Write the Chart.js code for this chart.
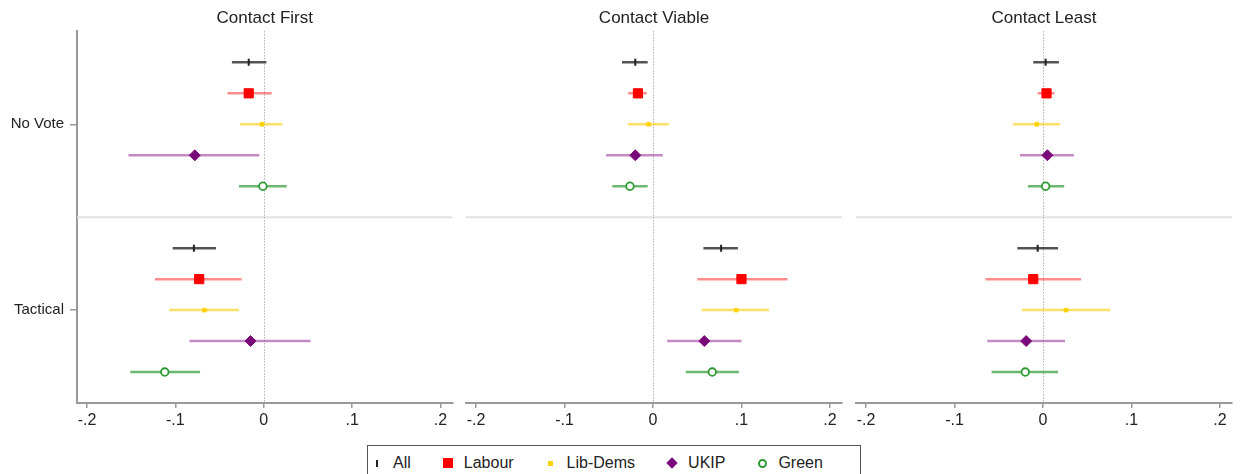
<!DOCTYPE html>
<html>
<head>
<meta charset="utf-8">
<script src="https://cdn.jsdelivr.net/npm/chart.js@4.4.1/dist/chart.umd.min.js"></script>
<style>
  body { margin: 0; background: #fff; width: 1240px; height: 474px; overflow: hidden; position: relative;
         font-family: "Liberation Sans", Arial, sans-serif; }
  canvas { position: absolute; top: 0; }
  #legend { position: absolute; left: 367px; top: 445px; width: 494px; height: 36px; box-sizing: border-box;
            border: 1px solid #555; display: flex; align-items: center;
            font-size: 16px; color: #222; }
  #legend .item { display: flex; align-items: center; margin-right: 28px; }
  #legend .mk { width: 18px; margin-right: 7px; display: flex; justify-content: center; align-items: center; }
</style>
</head>
<body>
<canvas id="p0" width="460" height="440" style="left:0px"></canvas>
<canvas id="p1" width="404" height="440" style="left:446px"></canvas>
<canvas id="p2" width="404" height="440" style="left:836px"></canvas>
<div id="legend"></div>
<script>
// --- data -------------------------------------------------------------
const panelTitles = ['Contact First', 'Contact Viable', 'Contact Least'];
const groupLabels = ['No Vote', 'Tactical'];
const parties = ['All', 'Labour', 'Lib-Dems', 'UKIP', 'Green'];
const xTicks = [-0.2, -0.1, 0, 0.1, 0.2];
const xTickLabels = ['-.2', '-.1', '0', '.1', '.2'];

// order: No Vote (All, Labour, Lib-Dems, UKIP, Green), then Tactical (same order)
const firstEst = [-0.017, -0.017, -0.002, -0.078, -0.001, -0.079, -0.073, -0.067, -0.015, -0.112];
const firstLo  = [-0.036, -0.041, -0.027, -0.153, -0.028, -0.103, -0.123, -0.107, -0.084, -0.151];
const firstHi  = [ 0.003,  0.009,  0.021, -0.005,  0.026, -0.054, -0.025, -0.028,  0.053, -0.072];

const viableEst = [-0.020, -0.017, -0.005, -0.020, -0.026, 0.077, 0.100, 0.094, 0.058, 0.067];
const viableLo  = [-0.035, -0.028, -0.028, -0.053, -0.046, 0.057, 0.050, 0.055, 0.016, 0.037];
const viableHi  = [-0.006, -0.007,  0.018,  0.011, -0.006, 0.096, 0.152, 0.131, 0.100, 0.097];

const leastEst = [ 0.003,  0.004, -0.007,  0.005,  0.003, -0.006, -0.011,  0.026, -0.019, -0.020];
const leastLo  = [-0.011, -0.006, -0.034, -0.026, -0.017, -0.029, -0.065, -0.024, -0.063, -0.058];
const leastHi  = [ 0.018,  0.013,  0.019,  0.035,  0.024,  0.017,  0.043,  0.076,  0.025,  0.017];

// --- styles -----------------------------------------------------------
const FONT = '"Liberation Sans", Arial, sans-serif';
const AXIS = '#999';
const partyStyle = [
  { point: 'line',    radius: 3.5, rotation: 90, fill: '#222',    edge: '#222',    width: 2,   ci: 'rgba(40,40,40,0.8)' },
  { point: 'rect',    radius: 6.5, rotation: 0,  fill: '#ff0000', edge: '#ff0000', width: 1,   ci: 'rgba(255,0,0,0.45)' },
  { point: 'rect',    radius: 2.5, rotation: 0,  fill: '#ffd200', edge: '#ffd200', width: 1,   ci: 'rgba(255,210,40,0.7)' },
  { point: 'rectRot', radius: 5.5, rotation: 0,  fill: '#7a0a7a', edge: '#7a0a7a', width: 1,   ci: 'rgba(140,20,140,0.5)' },
  { point: 'circle',  radius: 3.8, rotation: 0,  fill: '#ffffff', edge: '#2e9a34', width: 1.8, ci: 'rgba(46,154,52,0.7)' },
];

const rowOf = (g, p) => g * 6 + p + 1;

// zero reference (dotted) and group separator
const refLines = {
  id: 'refLines',
  beforeDatasetsDraw(chart) {
    const { ctx, chartArea: a, scales: { x, y } } = chart;
    ctx.save();
    const ys = y.getPixelForValue(6);
    ctx.strokeStyle = '#e2e2e2';
    ctx.lineWidth = 2;
    ctx.beginPath(); ctx.moveTo(a.left, ys); ctx.lineTo(a.right, ys); ctx.stroke();
    const x0 = Math.round(x.getPixelForValue(0)) + 0.5;
    ctx.strokeStyle = '#8a8a8a';
    ctx.lineWidth = 1;
    ctx.setLineDash([1, 2]);
    ctx.beginPath(); ctx.moveTo(x0, a.top); ctx.lineTo(x0, a.bottom); ctx.stroke();
    ctx.restore();
  }
};

function buildPanel(id, title, est, lo, hi, showY, pad) {
  const datasets = [];
  parties.forEach((name, p) => {
    const st = partyStyle[p];
    groupLabels.forEach((_, g) => {
      const i = g * 5 + p;
      datasets.push({
        data: [{ x: lo[i], y: rowOf(g, p) }, { x: hi[i], y: rowOf(g, p) }],
        showLine: true, borderColor: st.ci, borderWidth: 2.5, pointRadius: 0, order: 2,
      });
    });
    datasets.push({
      label: name,
      data: groupLabels.map((_, g) => ({ x: est[g * 5 + p], y: rowOf(g, p) })),
      pointStyle: st.point, pointRadius: st.radius, pointRotation: st.rotation,
      backgroundColor: st.fill, borderColor: st.edge, borderWidth: st.width, order: 1,
    });
  });

  return new Chart(document.getElementById(id), {
    type: 'scatter',
    data: { datasets },
    options: {
      responsive: false,
      animation: false,
      layout: { padding: { left: pad.left, right: pad.right, top: 0, bottom: 0 } },
      plugins: {
        legend: { display: false },
        tooltip: { enabled: false },
        title: {
          display: true, text: title, fullSize: false, color: '#222',
          font: { family: FONT, size: 17, weight: 'normal' }, padding: { top: 8, bottom: 3 },
        },
      },
      scales: {
        x: {
          type: 'linear', min: -0.2113, max: 0.2136,
          afterBuildTicks: s => { s.ticks = xTicks.map(v => ({ value: v })); },
          afterFit: s => { s.height = 37; s.paddingLeft = 0; s.paddingRight = 0; },
          ticks: {
            callback: (v, i) => xTickLabels[i], autoSkip: false, maxRotation: 0, padding: 3,
            color: '#222', font: { family: FONT, size: 16 },
          },
          grid: { drawOnChartArea: false, drawTicks: true, tickLength: 5, color: AXIS, lineWidth: 1.5 },
          border: { color: AXIS, width: 2 },
        },
        y: {
          type: 'linear', min: 0, max: 12, reverse: true, display: showY,
          afterBuildTicks: s => { s.ticks = groupLabels.map((_, g) => ({ value: g * 6 + 3 })); },
          afterFit: s => { s.width = showY ? 77 - pad.left : 0; },
          ticks: {
            callback: (v, i) => groupLabels[i], autoSkip: false, padding: 6,
            color: '#222', font: { family: FONT, size: 15 },
          },
          grid: { drawOnChartArea: false, drawTicks: true, tickLength: 7, color: AXIS, lineWidth: 1.5 },
          border: { color: AXIS, width: 2 },
        },
      },
    },
    plugins: [refLines],
  });
}

buildPanel('p0', panelTitles[0], firstEst, firstLo, firstHi, true, { left: 0, right: 7 });
buildPanel('p1', panelTitles[1], viableEst, viableLo, viableHi, false, { left: 20, right: 8 });
buildPanel('p2', panelTitles[2], leastEst, leastLo, leastHi, false, { left: 20, right: 8 });

// --- legend -----------------------------------------------------------
const markerCss = [
  'width:2px;height:7px;background:#222',
  'width:10px;height:10px;background:#ff0000',
  'width:5px;height:5px;background:#ffd200',
  'width:8px;height:8px;background:#7a0a7a;transform:rotate(45deg)',
  'width:5px;height:5px;border:2px solid #2e9a34;border-radius:50%',
];
const legendEl = document.getElementById('legend');
parties.forEach((name, p) => {
  const item = document.createElement('div');
  item.className = 'item';
  item.innerHTML = `<span class="mk"><span style="display:block;${markerCss[p]}"></span></span><span>${name}</span>`;
  legendEl.appendChild(item);
});
</script>
</body>
</html>
